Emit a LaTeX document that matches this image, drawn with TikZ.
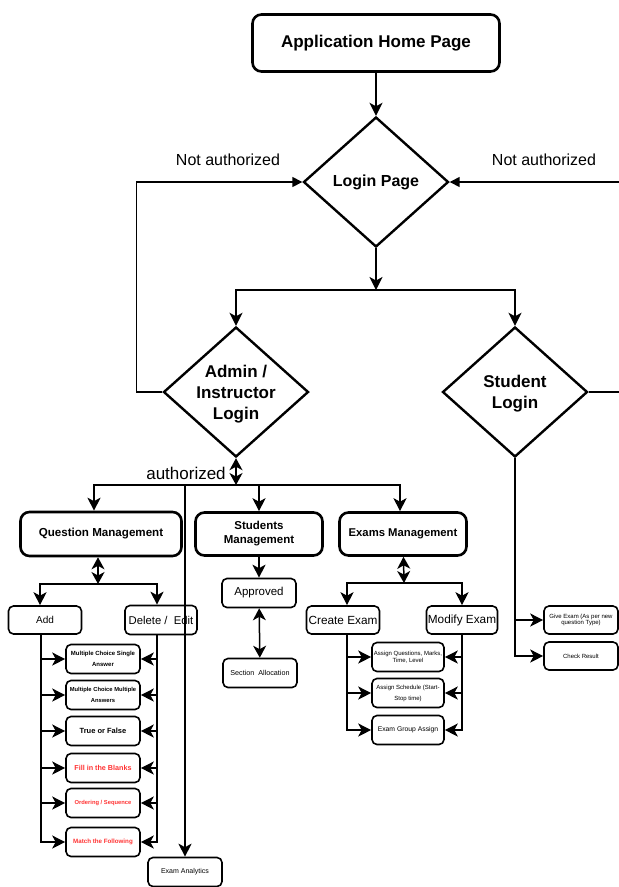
\documentclass[tikz,border=0pt]{standalone}
\usepackage{fontspec}
\setmainfont{Liberation Sans}
\usetikzlibrary{shapes.geometric,arrows.meta}
\definecolor{redtext}{HTML}{FF3333}
\newcommand{\fsz}[2]{\fontsize{#1}{#2}\selectfont}

\begin{document}
\begin{tikzpicture}[x=1pt,y=-1pt,
  bigbox/.style={draw,rounded corners=9pt,line width=2.6pt,minimum width=127pt,minimum height=43pt,align=center},
  smallbox/.style={draw,rounded corners=5pt,line width=1.6pt,minimum width=74pt,minimum height=29pt,inner sep=1pt,align=center},
  decision/.style={draw,diamond,line width=2.4pt,inner sep=0pt,minimum width=145pt,minimum height=130pt},
  dtext/.style={font=\bfseries\fsz{17}{21},align=center},
  line/.style={line width=1.5pt},
  arr/.style={line width=1.5pt,-{Stealth[length=13pt,width=13pt,inset=3.5pt]}},
  back/.style={line width=1.5pt,-{Triangle[length=10pt,width=10pt]}},
  both/.style={line width=1.5pt,{Stealth[length=12pt,width=13pt,inset=3.5pt]}-{Stealth[length=12pt,width=13pt,inset=3.5pt]}}]
\useasboundingbox (0,0) rectangle (619,887);

% top part
\node[bigbox,minimum width=247pt,minimum height=57pt,font=\bfseries\fsz{17}{20}] (home) at (376,43) {Application Home Page};
\node[decision,label={[dtext,font=\bfseries\fsz{16}{20}]center:Login Page}] (login) at (376,182) {};
\node[decision,label={[dtext,yshift=-2pt]center:Admin /\\Instructor\\Login}] (admin) at (236,392) {};
\node[decision,label={[dtext,yshift=-2pt]center:Student\\Login}] (student) at (515,392) {};

\node[font=\fsz{16}{19}] (nal) at (228,160) {Not authorized};
\node[font=\fsz{16}{19}] (nar) at (544,160) {Not authorized};
\node[font=\fsz{17}{20}] (auth) at (186,473) {authorized};

\coordinate (split) at (376,290);
\coordinate (adminsplit) at (236,485);
\coordinate (rightedge) at (622,392);

\draw[arr] (home) -- (login);
\draw[arr] (login) -- (split);
\draw[arr] (split) -| (admin);
\draw[arr] (split) -| (student);
\draw[back] (admin.west) -- ++(-26,0) |- (login.west);
\draw[back] (student.east) -- (rightedge) |- (login.east);

% admin side
\node[bigbox,minimum width=161pt,minimum height=44pt,font=\bfseries\fsz{11.6}{14}] (qm) at (101,534) {Question Management};
\node[bigbox,font=\bfseries\fsz{11.5}{14}] (sm) at (259,534) {Students\\Management};
\node[bigbox,font=\bfseries\fsz{11.3}{13}] (em) at (403,534) {Exams Management};
\node[smallbox,font=\fsz{7}{8}] (ea) at (185,872) {Exam Analytics};

\draw[both] (admin) -- (adminsplit);
\draw[arr] (adminsplit) -| ([xshift=-7pt]qm.north);
\draw[arr] (adminsplit) -| (sm);
\draw[arr] (adminsplit) -| ([xshift=-3pt]em.north);
\draw[arr] (adminsplit -| ea) -- (ea);

% question management
\coordinate (qmsplit) at (98,584);
\node[smallbox,minimum width=73pt,minimum height=28pt,font=\fsz{10}{12}] (add) at (45,620) {Add};
\node[smallbox,minimum width=72pt,font=\fsz{11.3}{14}] (del) at (161,620) {Delete /\ \ Edit};

\draw[both] ([xshift=-3pt]qm.south) -- (qmsplit);
\draw[arr] (qmsplit) -| ([xshift=-5pt]add.north);
\draw[arr] (qmsplit) -| ([xshift=-4pt]del.north);

\node[smallbox,font=\bfseries\fsz{6}{11}] (qmcs) at (103,659) {Multiple Choice Single\\Answer};
\node[smallbox,font=\bfseries\fsz{5.8}{11}] (qmcm) at (103,695) {Multiple Choice Multiple\\Answers};
\node[smallbox,font=\bfseries\fsz{7.5}{9}] (qtf) at (103,731) {True or False};
\node[smallbox,font=\bfseries\fsz{7.2}{9},text=redtext] (qfill) at (103,768) {Fill in the Blanks};
\node[smallbox,font=\bfseries\fsz{5.8}{7},text=redtext] (qord) at (103,803) {Ordering / Sequence};
\node[smallbox,font=\bfseries\fsz{6.2}{7},text=redtext] (qmatch) at (103,842) {Match the Following};

\draw[arr] ([xshift=-4pt]add.south) |- (qmatch);
\draw[arr] ([xshift=-4pt]del.south) |- (qmatch);
\foreach \q in {qmcs,qmcm,qtf,qfill,qord}{
  \draw[arr] (\q.west -| qmatch.west) ++(-25,0) -- (\q.west);
  \draw[arr] (\q.east) ++(17,0) -- (\q.east);
}

% students management
\node[smallbox,font=\fsz{11.5}{14}] (appr) at (259,593) {Approved};
\node[smallbox,font=\fsz{7.2}{8}] (sec) at (260,673) {Section\ \ Allocation};
\draw[arr] (sm) -- (appr);
\draw[both] (appr) -- (sec);

% exams management
\coordinate (emsplit) at (404,583);
\node[smallbox,minimum width=73pt,minimum height=28pt,font=\fsz{11.8}{15}] (create) at (343,620) {Create Exam};
\node[smallbox,minimum width=71pt,minimum height=28pt,font=\fsz{11.8}{15}] (modify) at (462,620) {Modify Exam};
\node[smallbox,minimum width=72pt,font=\fsz{6}{7}] (aq) at (408,657) {Assign Questions, Marks,\\Time, Level};
\node[smallbox,minimum width=72pt,font=\fsz{6}{11}] (as) at (408,693) {Assign Schedule (Start-\\Stop time)};
\node[smallbox,minimum width=72pt,font=\fsz{6.8}{8}] (eg) at (408,730) {Exam Group Assign};

\draw[both] (em) -- (emsplit);
\draw[arr] (emsplit) -| ([xshift=4pt]create.north);
\draw[arr] (emsplit) -| (modify);
\draw[arr] ([xshift=4pt]create.south) |- (eg);
\draw[arr] (modify.south) |- (eg);
\foreach \e in {aq,as}{
  \draw[arr] (\e.west) ++(-25,0) -- (\e.west);
  \draw[arr] (\e.east) ++(18,0) -- (\e.east);
}

% student side
\node[smallbox,minimum height=28pt,font=\fsz{6}{6.5}] (give) at (581,620) {Give Exam (As per new\\question Type)};
\node[smallbox,minimum height=28pt,font=\fsz{6}{7}] (check) at (581,656) {Check Result};
\draw[arr] (student.south) |- (check);
\draw[arr] (give.west -| student.south) -- (give);
\end{tikzpicture}
\end{document}
